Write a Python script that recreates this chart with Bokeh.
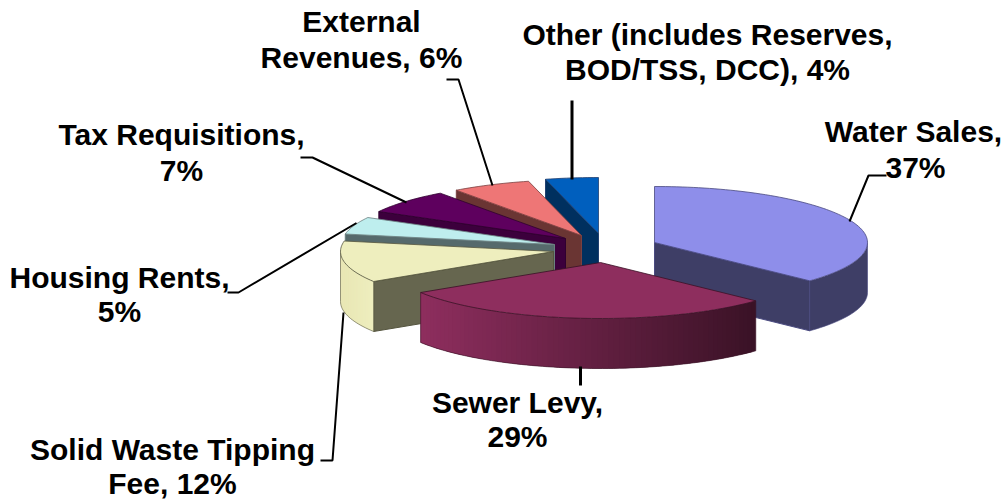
import numpy as np
from bokeh.embed import file_html
from bokeh.models import Range1d
from bokeh.plotting import figure
from bokeh.resources import INLINE
from bokeh.core.properties import value

# Budget shares, percent, clockwise from twelve o'clock
categories = ["Water Sales", "Sewer Levy", "Solid Waste Tipping Fee", "Housing Rents",
              "Tax Requisitions", "External Revenues", "Other"]
shares = [37, 29, 12, 5, 7, 6, 4]
top_colors = ["#8E8EEA", "#8E2E5E", "#EEEEBE", "#BEEEEE", "#5E005E", "#EE7676", "#005FBE"]
wall_colors = ["#3E3E66", "#6E2449", "#66664F", "#566A6C", "#3C003C", "#6A3533", "#00305F"]
edge_colors = ["#4A4A80", "#3A1226", "#55553F", "#6A8080", "#300030", "#7A4040", "#204070"]
# Pull-out position of each slice's tip on the page
tips_x = [654, 600, 553, 554, 565, 581, 598]
tips_y = [242, 262, 251, 244, 238, 235, 233]

label_texts = [
    ("External", 361, 21), ("Revenues, 6%", 361, 57),
    ("Other (includes Reserves,", 707, 34), ("BOD/TSS, DCC), 4%", 707, 69),
    ("Water Sales,", 913, 131), ("37%", 915, 167),
    ("Tax Requisitions,", 181, 134), ("7%", 181, 170),
    ("Housing Rents,", 119, 277), ("5%", 119, 311),
    ("Sewer Levy,", 517, 402), ("29%", 517, 436),
    ("Solid Waste Tipping", 172, 449), ("Fee, 12%", 172, 483),
]
leaders = [
    ([886, 868, 849], [175, 175, 221], 2),
    ([571.5, 571.5], [100, 179], 3),
    ([446, 458, 492], [79, 79, 185], 2),
    ([300, 312, 406], [157, 157, 202], 2),
    ([227, 238, 356], [292, 292, 222.5], 2),
    ([320, 332, 343], [460, 460, 312], 2),
    ([580, 580], [366, 385], 3),
]

RX, RY, DEPTH = 213, 56, 50

p = figure(width=1004, height=500, output_backend="svg", toolbar_location=None,
           x_range=Range1d(0, 1004), y_range=Range1d(500, 0), min_border=0)
p.axis.visible = False
p.grid.visible = False
p.outline_line_color = None
p.background_fill_color = "white"


def rim(cx, cy, degrees):
    t = np.radians(degrees)
    return cx + RX * np.sin(t), cy - RY * np.cos(t)


def mix(c1, c2, f):
    a = [int(c1[i:i + 2], 16) for i in (1, 3, 5)]
    b = [int(c2[i:i + 2], 16) for i in (1, 3, 5)]
    return "#%02x%02x%02x" % tuple(round(u + (v - u) * f) for u, v in zip(a, b))


# Outer wall shading per slice, left to right across the wall
wall_ramps = {1: ("#8E2E5E", "#3A1226"), 2: ("#E8E6B4", "#EEEEBE")}

edges = np.cumsum([0] + shares) * 3.6
# Paint from the back of the pie to the front
order = [6, 5, 4, 3, 2, 0, 1]

for i in order:
    a0, a1 = edges[i], edges[i + 1]
    cx, cy = tips_x[i], tips_y[i]
    top, wall, edge = top_colors[i], wall_colors[i], edge_colors[i]

    # Cut faces that look toward the viewer
    for ang, show in ((a0, 180 < a0 < 360), (a1, 0 < a1 < 180)):
        if show:
            rx, ry = rim(cx, cy, ang)
            p.patch([cx, rx, rx, cx], [cy, ry, ry + DEPTH, cy + DEPTH],
                    fill_color=wall, line_color=edge, line_width=1)

    # Curved outer wall on the near half
    lo, hi = max(a0, 90), min(a1, 270)
    if hi > lo:
        steps = np.linspace(lo, hi, int((hi - lo) / 1.5) + 2)
        xs, ys = rim(cx, cy, steps)
        if i in wall_ramps:
            # Shaded wall: overlapping strips so no seams show between them
            c0, c1 = wall_ramps[i]
            span = xs.max() - xs.min()
            for k in range(len(steps) - 1):
                f = ((xs[k] + xs[k + 1]) / 2 - xs.min()) / span
                j = min(k + 3, len(steps))
                p.patch(np.r_[xs[k:j], xs[k:j][::-1]], np.r_[ys[k:j], ys[k:j][::-1] + DEPTH],
                        fill_color=mix(c0, c1, f), line_color=None)
        else:
            p.patch(np.r_[xs, xs[::-1]], np.r_[ys, ys[::-1] + DEPTH], fill_color=wall, line_color=None)
        p.line(xs, ys + DEPTH, line_color=edge, line_width=1, line_alpha=0.6)
        p.line([xs[0], xs[0]], [ys[0], ys[0] + DEPTH], line_color=edge, line_width=1, line_alpha=0.6)
        p.line([xs[-1], xs[-1]], [ys[-1], ys[-1] + DEPTH], line_color=edge, line_width=1, line_alpha=0.6)

    # Top face
    arc = np.linspace(a0, a1, int((a1 - a0) / 1.5) + 2)
    ax, ay = rim(cx, cy, arc)
    p.patch(np.r_[cx, ax], np.r_[cy, ay], fill_color=top, line_color=edge, line_width=1, line_alpha=0.8)

for lx, ly, lw in leaders:
    p.line(lx, ly, line_color="black", line_width=lw)

p.text([t[1] for t in label_texts], [t[2] for t in label_texts], text=[t[0] for t in label_texts],
       text_font=value("Liberation Sans"), text_font_style="bold", text_font_size="30px",
       text_color="black", text_align="center", text_baseline="middle")

open("out.html", "w").write(file_html(p, INLINE))
